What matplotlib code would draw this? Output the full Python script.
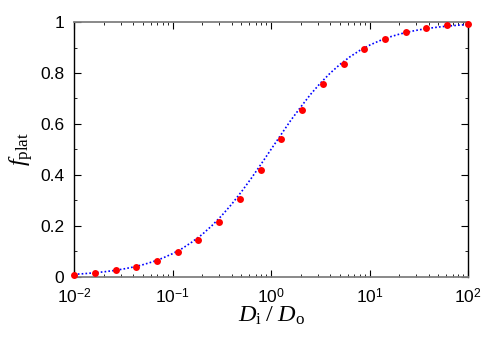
import matplotlib
matplotlib.use("Agg")
import matplotlib.pyplot as plt
import numpy as np

plt.rcParams['font.family'] = ['Liberation Sans', 'DejaVu Sans']
plt.rcParams['mathtext.fontset'] = 'custom'
plt.rcParams['mathtext.rm'] = 'Liberation Serif'
plt.rcParams['mathtext.it'] = 'Liberation Serif:italic'
plt.rcParams['mathtext.sf'] = 'Liberation Sans'

# points (red dots)
dot_x = [0.01, 0.0163, 0.0264, 0.0428, 0.0695, 0.113, 0.183, 0.298, 0.483, 0.785,
         1.27, 2.07, 3.36, 5.46, 8.86, 14.4, 23.4, 37.9, 61.6, 100.0]
dot_y = [0.009, 0.016, 0.025, 0.039, 0.062, 0.096, 0.145, 0.215, 0.307, 0.419,
         0.540, 0.656, 0.757, 0.835, 0.893, 0.932, 0.960, 0.975, 0.987, 0.994]

# dotted blue curve, sampled every 0.1 decade
curve_x = [0.01, 0.0126, 0.0158, 0.02, 0.0251, 0.0316, 0.0398, 0.0501, 0.0631, 0.0794,
           0.1, 0.126, 0.158, 0.2, 0.251, 0.316, 0.398, 0.501, 0.631, 0.794,
           1.0, 1.26, 1.58, 2.0, 2.51, 3.16, 3.98, 5.01, 6.31, 7.94,
           10.0, 12.6, 15.8, 20.0, 25.1, 31.6, 39.8, 50.1, 63.1, 79.4, 100.0]
curve_y = [0.0099, 0.0124, 0.0156, 0.0196, 0.0245, 0.0307, 0.0383, 0.0477, 0.0593, 0.0736,
           0.0909, 0.1118, 0.1368, 0.1663, 0.2008, 0.2403, 0.2847, 0.3339, 0.3869, 0.4427,
           0.5, 0.5573, 0.6131, 0.6661, 0.7153, 0.7597, 0.7992, 0.8337, 0.8632, 0.8882,
           0.9091, 0.9264, 0.9407, 0.9523, 0.9617, 0.9693, 0.9755, 0.9804, 0.9844, 0.9876, 0.9901]

xticks = [0.01, 0.1, 1, 10, 100]
xtick_labels = [r'$\mathsf{10}^{\mathsf{-2}}$', r'$\mathsf{10}^{\mathsf{-1}}$',
                r'$\mathsf{10}^{\mathsf{0}}$', r'$\mathsf{10}^{\mathsf{1}}$',
                r'$\mathsf{10}^{\mathsf{2}}$']
yticks = [0, 0.2, 0.4, 0.6, 0.8, 1]
ytick_labels = ['0', '0.2', '0.4', '0.6', '0.8', '1']

fig = plt.figure(figsize=(5, 3.5), dpi=100)
ax = fig.add_axes([0.148, 0.209, 0.788, 0.728])

ax.plot(curve_x, curve_y, color='blue', linestyle=(0, (1, 1.3)), linewidth=1.2, zorder=2)
ax.plot(dot_x, dot_y, 'o', color='red', markersize=5, markeredgewidth=0, zorder=3, clip_on=False)

ax.set_xscale('log')
ax.set_xlim(0.01, 100)
ax.set_ylim(0, 1)
ax.set_xticks(xticks)
ax.set_xticklabels(xtick_labels, fontsize=12.5)
ax.set_yticks(yticks)
ax.set_yticklabels(ytick_labels, fontsize=12.5)
ax.set_yticks(np.arange(0.1, 1.0, 0.2), minor=True)

ax.tick_params(which='both', direction='in', top=True, right=True)
ax.tick_params(which='major', length=5, width=0.8)
ax.tick_params(which='minor', length=2.5, width=0.6)
ax.tick_params(axis='x', which='major', pad=7.5)
ax.tick_params(axis='y', which='major', pad=7)

for s in ['top', 'bottom']:
    ax.spines[s].set_color('#808080')
    ax.spines[s].set_linewidth(1.3)
for s in ['left', 'right']:
    ax.spines[s].set_color('black')
    ax.spines[s].set_linewidth(1.0)

ax.set_xlabel(r'$D_{\mathrm{i}}\;/\;D_{\mathrm{o}}$', fontsize=17.5, labelpad=-1)
ax.set_ylabel(r'$f_{\mathrm{plat}}$', fontsize=17.5, labelpad=4)

fig.savefig('out.png', dpi=100)
